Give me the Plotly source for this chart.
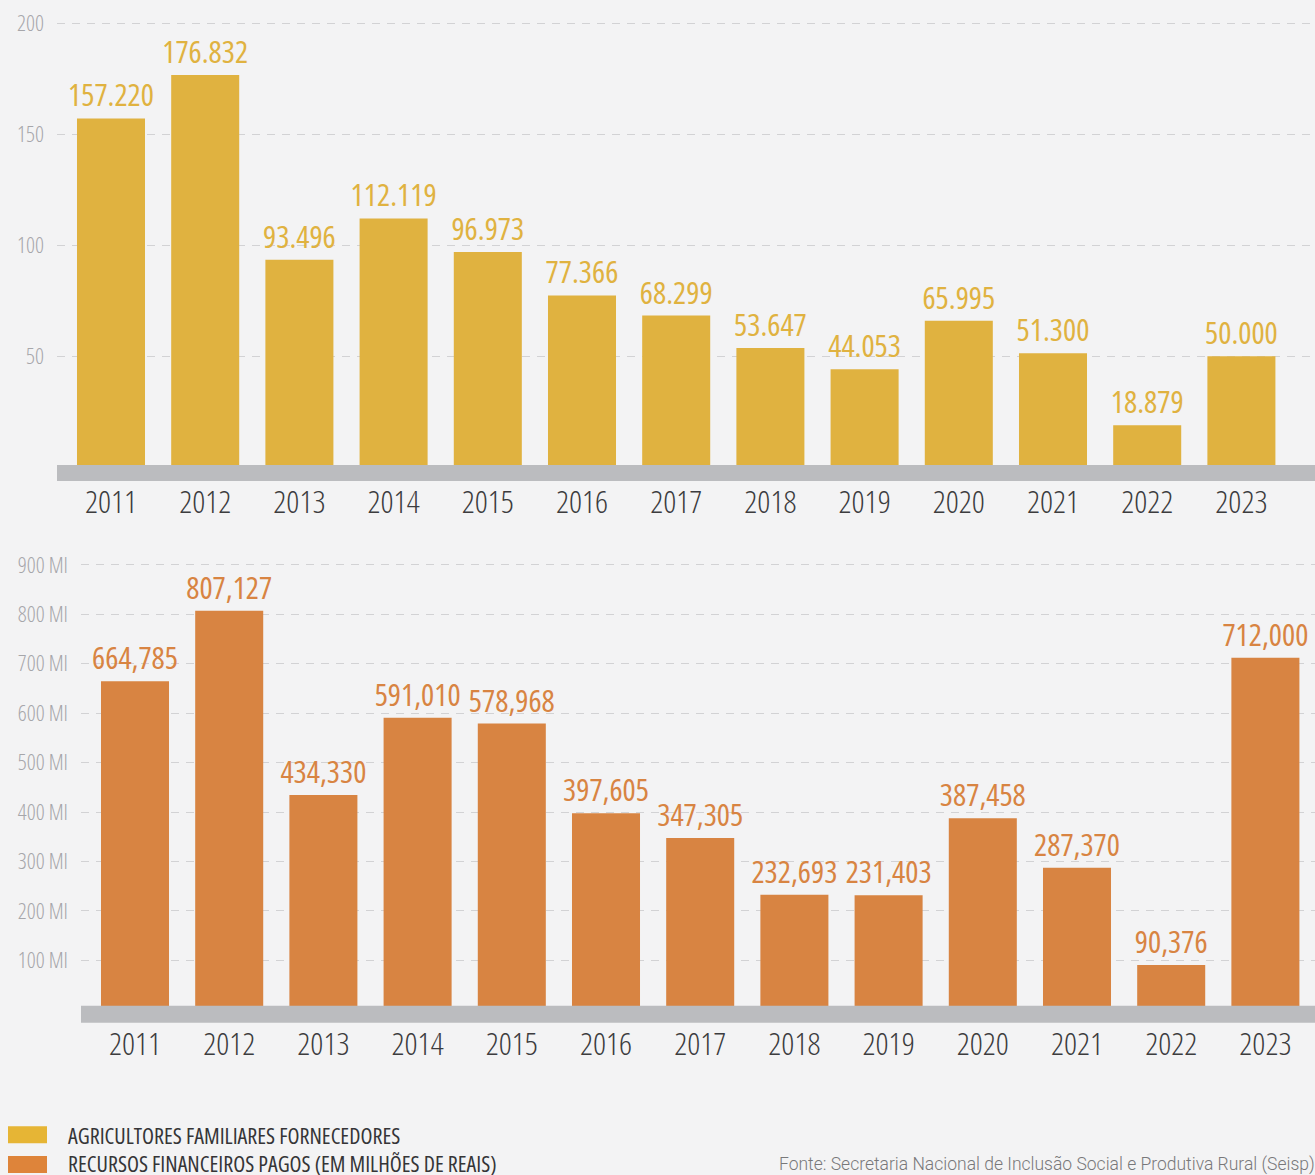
import plotly.graph_objects as go

# ---- data ----
years = ["2011", "2012", "2013", "2014", "2015", "2016", "2017",
         "2018", "2019", "2020", "2021", "2022", "2023"]
agricultores = [157.220, 176.832, 93.496, 112.119, 96.973, 77.366, 68.299,
                53.647, 44.053, 65.995, 51.300, 18.879, 50.000]
recursos = [664.785, 807.127, 434.330, 591.010, 578.968, 397.605, 347.305,
            232.693, 231.403, 387.458, 287.370, 90.376, 712.000]
top_ticks = [50, 100, 150, 200]
bottom_ticks = [100, 200, 300, 400, 500, 600, 700, 800, 900]
bottom_tick_text = [f"{v} MI" for v in bottom_ticks]

agri_text = [f"{v:.3f}" for v in agricultores]
rec_text = [f"{v:.3f}".replace(".", ",") for v in recursos]

YELLOW = "#E0B240"
ORANGE = "#D88442"
BAND = "#BBBCBF"
GRID = "#D2D2D4"
TICKGREY = "#A6A6AA"
YEARCOL = "#3C3C3E"
BG = "#F3F3F4"
COND = "Open Sans"

W, H = 1315, 1175


def px_x(p):
    return p / W


def px_y(p):
    return (H - p) / H


fig = go.Figure()

fig.add_trace(go.Bar(
    x=years, y=agricultores, marker=dict(color=YELLOW, line=dict(width=0)),
    text=agri_text, textposition="outside", constraintext="none",
    textfont=dict(family=COND, size=31, color=YELLOW, weight=500),
    cliponaxis=False, xaxis="x", yaxis="y", hoverinfo="x+y",
))
fig.add_trace(go.Bar(
    x=years, y=recursos, marker=dict(color=ORANGE, line=dict(width=0)),
    text=rec_text, textposition="outside", constraintext="none",
    textfont=dict(family=COND, size=31, color=ORANGE, weight=500),
    cliponaxis=False, xaxis="x2", yaxis="y2", hoverinfo="x+y",
))

step = 94.2
top_c0, bot_c0 = 111, 135
top_left, bot_left = 57, 81

# top chart: zero at 464px, 2.227 px/unit
top_zero, top_scale, top_max = 464, 2.227, 205
# bottom chart: zero at 1009px, 0.4963 px/unit
bot_zero, bot_scale, bot_max = 1009, 0.4963, 930


def xrange_for(left, c0):
    return [(left - c0) / step, (W - c0) / step]


axis_common = dict(showline=False, zeroline=False, fixedrange=True,
                   ticklabeloverflow="allow")

fig.update_layout(
    width=W, height=H, autosize=False,
    margin=dict(l=0, r=0, t=0, b=0),
    paper_bgcolor=BG, plot_bgcolor="rgba(0,0,0,0)",
    showlegend=False, bargap=0.278,
    xaxis=dict(
        **axis_common, type="category", domain=[px_x(top_left), 1],
        range=xrange_for(top_left, top_c0),
        showgrid=False, ticks="", ticklabelstandoff=13,
        tickfont=dict(family=COND, size=32, color=YEARCOL, weight=300), anchor="y",
    ),
    yaxis=dict(
        **axis_common, domain=[px_y(top_zero), px_y(top_zero - top_max * top_scale)],
        range=[0, top_max], tickvals=top_ticks,
        showgrid=True, gridcolor=GRID, gridwidth=1, griddash="8px,7px",
        ticks="", ticklabelstandoff=12,
        tickfont=dict(family=COND, size=22, color=TICKGREY, weight=300), anchor="x",
    ),
    xaxis2=dict(
        **axis_common, type="category", domain=[px_x(bot_left), 1],
        range=xrange_for(bot_left, bot_c0),
        showgrid=False, ticks="", ticklabelstandoff=12,
        tickfont=dict(family=COND, size=32, color=YEARCOL, weight=300), anchor="y2",
    ),
    yaxis2=dict(
        **axis_common, domain=[px_y(bot_zero), px_y(bot_zero - bot_max * bot_scale)],
        range=[0, bot_max], tickvals=bottom_ticks, ticktext=bottom_tick_text,
        showgrid=True, gridcolor=GRID, gridwidth=1, griddash="8px,7px",
        ticks="", ticklabelstandoff=12,
        tickfont=dict(family=COND, size=22, color=TICKGREY, weight=300), anchor="x2",
    ),
)

shapes = [
    # grey baseline bands
    dict(type="rect", xref="paper", yref="paper", x0=px_x(top_left), x1=1,
         y0=px_y(478), y1=px_y(462), fillcolor=BAND, line=dict(width=0), layer="above"),
    dict(type="rect", xref="paper", yref="paper", x0=px_x(bot_left), x1=1,
         y0=px_y(1022), y1=px_y(1005), fillcolor=BAND, line=dict(width=0), layer="above"),
    # legend swatches
    dict(type="rect", xref="paper", yref="paper", x0=px_x(8), x1=px_x(47),
         y0=px_y(1143), y1=px_y(1126), fillcolor="#E6B535", line=dict(width=0)),
    dict(type="rect", xref="paper", yref="paper", x0=px_x(8), x1=px_x(47),
         y0=px_y(1173), y1=px_y(1156), fillcolor="#DE843A", line=dict(width=0)),
]
fig.update_layout(shapes=shapes)

annotations = [
    dict(text="AGRICULTORES FAMILIARES FORNECEDORES", xref="paper", yref="paper",
         x=px_x(66), y=px_y(1134.5), xanchor="left", yanchor="middle", align="left",
         showarrow=False, font=dict(family=COND, size=22, color="#353537")),
    dict(text="RECURSOS FINANCEIROS PAGOS (EM MILHÕES DE REAIS)", xref="paper", yref="paper",
         x=px_x(66), y=px_y(1163), xanchor="left", yanchor="middle", align="left",
         showarrow=False, font=dict(family=COND, size=22, color="#353537")),
    dict(text="Fonte: Secretaria Nacional de Inclusão Social e Produtiva Rural (Seisp)",
         xref="paper", yref="paper", x=px_x(777), y=px_y(1164), xanchor="left",
         yanchor="middle", align="left", showarrow=False,
         font=dict(family="Roboto", size=17.5, color="#78787A", weight=300)),
]
fig.update_layout(annotations=annotations)

# page without body margin, and condensed width for the Open Sans texts
post = """
document.body.style.margin = '0';
document.body.style.background = '%s';
var gd = document.getElementById('{plot_id}');
gd.querySelectorAll('text').forEach(function(t){
  if ((t.style.fontFamily || '').indexOf('Open Sans') >= 0) { t.style.fontStretch = '75%%'; }
});
""" % BG
fig.write_html("out.html", post_script=post, config={"displayModeBar": False})
